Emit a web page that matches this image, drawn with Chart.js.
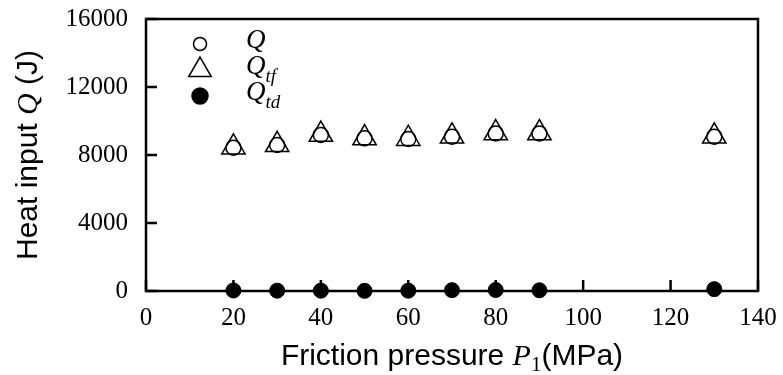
<!DOCTYPE html>
<html>
<head>
<meta charset="utf-8">
<script src="https://cdn.jsdelivr.net/npm/chart.js@4.4.0/dist/chart.umd.min.js"></script>
<style>
  html, body { margin: 0; padding: 0; background: #fff; }
</style>
</head>
<body>
<canvas id="heatChart" width="783" height="375"></canvas>
<script>
// friction pressure P1 (MPa)
const pressure = [20, 30, 40, 50, 60, 70, 80, 90, 130];
// heat input values (J)
const heatQ   = [8430, 8590, 9180, 8980, 8940, 9080, 9270, 9270, 9080];
const heatQtf = [8450, 8600, 9200, 9000, 8960, 9100, 9290, 9290, 9100];
const heatQtd = [30, 20, 20, 10, 20, 50, 60, 40, 110];
const xTicks = [0, 20, 40, 60, 80, 100, 120, 140];
const yTicks = [0, 4000, 8000, 12000, 16000];
const legendSubs = ['', 'tf', 'td'];

const SANS = '"Liberation Sans", Arial, sans-serif';
const SERIF = '"Liberation Serif", "Times New Roman", serif';

function toPoints(xs, ys) {
    var pts = [];
    for (var i = 0; i < xs.length; i++) pts.push({x: xs[i], y: ys[i]});
    return pts;
}

function drawRuns(ctx, runs, x, y, center) {
    var w = 0;
    runs.forEach(function (r) { ctx.font = r.font; r.w = ctx.measureText(r.text).width; w += r.w; });
    var cx = center ? x - w / 2 : x;
    runs.forEach(function (r) {
        ctx.font = r.font;
        ctx.fillText(r.text, cx, y + (r.dy || 0));
        cx += r.w;
    });
}

function drawMarker(ctx, style, x, y, r, filled) {
    ctx.beginPath();
    if (style === 'triangle') {
        var a = 0;
        ctx.moveTo(x + Math.sin(a) * r, y - Math.cos(a) * r);
        a += 2 * Math.PI / 3;
        ctx.lineTo(x + Math.sin(a) * r, y - Math.cos(a) * r);
        a += 2 * Math.PI / 3;
        ctx.lineTo(x + Math.sin(a) * r, y - Math.cos(a) * r);
        ctx.closePath();
    } else {
        ctx.arc(x, y, r, 0, Math.PI * 2);
    }
    if (filled) ctx.fill();
    ctx.stroke();
}

// box frame + inward ticks, titles and legend
const framePlugin = {
    id: 'frame',
    beforeDatasetsDraw(chart) {
        const ctx = chart.ctx, a = chart.chartArea;
        const xs = chart.scales.x, ys = chart.scales.y;
        ctx.save();
        ctx.strokeStyle = '#000';
        ctx.lineWidth = 2.5;
        ctx.strokeRect(a.left, a.top, a.right - a.left, a.bottom - a.top);
        ctx.beginPath();
        xTicks.forEach(function (v) {
            var px = xs.getPixelForValue(v);
            ctx.moveTo(px, a.bottom);
            ctx.lineTo(px, a.bottom - 11);
        });
        yTicks.forEach(function (v) {
            var py = ys.getPixelForValue(v);
            ctx.moveTo(a.left, py);
            ctx.lineTo(a.left + 11, py);
        });
        ctx.stroke();
        ctx.restore();
    },
    afterDraw(chart) {
        const ctx = chart.ctx, a = chart.chartArea;
        ctx.save();
        ctx.fillStyle = '#000';
        ctx.textBaseline = 'alphabetic';
        // x title
        drawRuns(ctx, [
            {text: 'Friction pressure ', font: '30px ' + SANS},
            {text: 'P', font: 'italic 30px ' + SERIF},
            {text: '1', font: '21px ' + SERIF, dy: 6},
            {text: '(MPa)', font: '30px ' + SANS}
        ], (a.left + a.right) / 2, 365, true);
        // y title
        ctx.save();
        ctx.translate(37, (a.top + a.bottom) / 2);
        ctx.rotate(-Math.PI / 2);
        drawRuns(ctx, [
            {text: 'Heat input ', font: '30px ' + SANS},
            {text: 'Q', font: 'italic 30px ' + SERIF},
            {text: ' (J)', font: '30px ' + SANS}
        ], 0, 0, true);
        ctx.restore();
        // legend
        var styles = ['circle', 'triangle', 'circle'];
        var radii = [6.5, 13, 8];
        var fills = [false, false, true];
        var rowsY = [44, 70, 96];
        ctx.strokeStyle = '#000';
        ctx.lineWidth = 1.5;
        for (var i = 0; i < 3; i++) {
            drawMarker(ctx, styles[i], 200, rowsY[i], radii[i], fills[i]);
            var runs = [{text: 'Q', font: 'italic 27px ' + SERIF}];
            if (legendSubs[i]) runs.push({text: legendSubs[i], font: 'italic 19px ' + SERIF, dy: 8});
            drawRuns(ctx, runs, 246, rowsY[i] + 4, false);
        }
        ctx.restore();
    }
};

new Chart('heatChart', {
    type: 'scatter',
    data: {
        datasets: [{
            label: 'Q',
            data: toPoints(pressure, heatQ),
            pointStyle: 'circle',
            pointRadius: 7.5,
            borderColor: '#000',
            backgroundColor: 'rgba(0,0,0,0)',
            borderWidth: 1.5,
            clip: false
        }, {
            label: 'Qtf',
            data: toPoints(pressure, heatQtf),
            pointStyle: 'triangle',
            pointRadius: 13.5,
            borderColor: '#000',
            backgroundColor: 'rgba(0,0,0,0)',
            borderWidth: 1.5,
            clip: false
        }, {
            label: 'Qtd',
            data: toPoints(pressure, heatQtd),
            pointStyle: 'circle',
            pointRadius: 7.5,
            borderColor: '#000',
            backgroundColor: '#000',
            borderWidth: 1,
            clip: false
        }]
    },
    options: {
        responsive: false,
        animation: false,
        events: [],
        layout: {padding: {left: 0, right: 25, top: 19, bottom: 0}},
        plugins: {legend: {display: false}, tooltip: {enabled: false}},
        scales: {
            x: {
                type: 'linear', min: 0, max: 140,
                afterBuildTicks: function (s) { s.ticks = xTicks.map(function (v) { return {value: v}; }); },
                afterFit: function (s) { s.height = 84; s.paddingLeft = 0; s.paddingRight = 0; },
                grid: {display: false, drawTicks: false},
                border: {display: false},
                ticks: {
                    color: '#000', padding: 12, maxRotation: 0,
                    font: {family: SERIF, size: 25},
                    callback: function (v) { return String(v); }
                }
            },
            y: {
                type: 'linear', min: 0, max: 16000,
                afterBuildTicks: function (s) { s.ticks = yTicks.map(function (v) { return {value: v}; }); },
                afterFit: function (s) { s.width = 146; s.paddingTop = 0; s.paddingBottom = 0; },
                grid: {display: false, drawTicks: false},
                border: {display: false},
                ticks: {
                    color: '#000', padding: 18,
                    font: {family: SERIF, size: 25},
                    callback: function (v) { return String(v); }
                }
            }
        }
    },
    plugins: [framePlugin]
});
</script>
</body>
</html>
